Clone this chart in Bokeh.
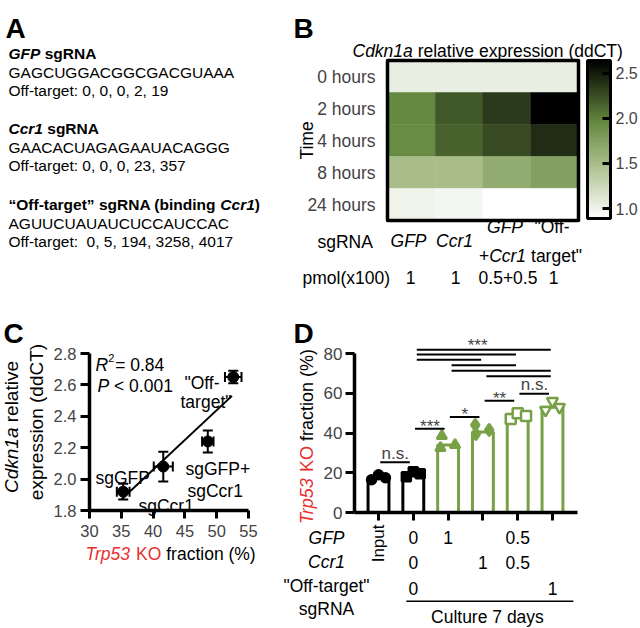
import math
from bokeh.plotting import figure
from bokeh.layouts import row, column
from bokeh.models import (Label, Range1d, FixedTicker, ColorBar, LinearColorMapper,
                          Whisker, TeeHead, ColumnDataSource, PrintfTickFormatter)
from bokeh.transform import transform
from bokeh.embed import file_html
from bokeh.resources import INLINE

FONT = "Liberation Sans"
GREEN = "#78a046"
RED = "#e8312f"

# ---------------- Panel A data ----------------
guide_genes = ["GFP", "Ccr1", "Ccr1"]
guide_seqs = ["GAGCUGGACGGCGACGUAAA", "GAACACUAGAGAAUACAGGG", "AGUUCUAUAUCUCCAUCCAC"]
guide_offtargets = ["Off-target: 0, 0, 0, 2, 19", "Off-target: 0, 0, 0, 23, 357",
                    "Off-target:  0, 5, 194, 3258, 4017"]

# ---------------- Panel B data ----------------
times = ["0 hours", "2 hours", "4 hours", "8 hours", "24 hours"]
sgrnas = ["GFP", "Ccr1", "GFP+Ccr1", "Off-target"]
expr_0h = [1.05, 1.05, 1.05, 1.05]
expr_2h = [1.95, 2.20, 2.35, 2.64]
expr_4h = [1.93, 2.15, 2.27, 2.42]
expr_8h = [1.50, 1.50, 1.65, 1.75]
expr_24h = [1.00, 0.97, 0.89, 0.89]
pmol = ["1", "1", "0.5+0.5", "1"]
cbar_ticks = [1.0, 1.5, 2.0, 2.5]
cbar_low, cbar_high = 0.89, 2.64

# ---------------- Panel C data ----------------
ko_frac = [35.3, 41.6, 48.6, 52.6]
ko_err = [1.0, 1.5, 0.9, 1.3]
cdkn = [1.92, 2.08, 2.24, 2.65]
cdkn_err = [0.05, 0.095, 0.07, 0.04]
fit_x = [35.0, 52.4]
fit_y = [1.87, 2.53]
c_xticks = [30, 35, 40, 45, 50, 55]
c_yticks = [1.8, 2.0, 2.2, 2.4, 2.6, 2.8]

# ---------------- Panel D data ----------------
groups = [1, 2, 3, 4, 5, 6]
bar_mean = [17.8, 19.5, 34.0, 40.5, 48.3, 53.0]
bar_color = ["black", "black", GREEN, GREEN, GREEN, GREEN]
pt_group = [1, 1, 1, 2, 2, 2, 3, 3, 3, 4, 4, 4, 5, 5, 5, 6, 6, 6]
pt_dx = [-0.2, 0.0, 0.2, -0.2, 0.0, 0.2, -0.18, -0.22, 0.2, -0.22, -0.2, 0.18,
         -0.2, 0.0, 0.24, -0.2, 0.0, 0.2]
pt_val = [16.5, 19.0, 17.5, 18.0, 20.5, 19.5, 38.5, 32.5, 34.0, 44.0, 39.5, 41.5,
          47.0, 50.0, 48.5, 51.5, 56.0, 53.0]
d_yticks = [0, 20, 40, 60, 80]
multi_from = [2, 2, 2, 3, 3, 4]
multi_to = [6, 5, 4, 5, 6, 6]
multi_y = [81.9, 79.5, 76.8, 74.1, 71.3, 68.6]
adj_from = [1, 2, 3, 4, 5]
adj_to = [2, 3, 4, 5, 6]
adj_y = [25.3, 42.1, 48.1, 56.2, 59.7]
adj_text = ["n.s.", "***", "*", "**", "n.s."]
gfp_row = {2: "0", 3: "1", 5: "0.5"}
ccr1_row = {2: "0", 4: "1", 5: "0.5"}
off_row = {2: "0", 6: "1"}

# ---------------- text width helpers (Arial metrics) ----------------
REG = {' ': 278, '"': 355, '%': 889, '(': 333, ')': 333, '+': 584, ',': 278, '-': 333, '.': 278,
       ':': 278, '<': 584, '=': 584, '*': 389}
for ch in "0123456789":
    REG[ch] = 556
REG.update(dict(zip("ABCDEFGHIJKLMNOPQRSTUVWXYZ",
                    [667, 667, 722, 722, 667, 611, 778, 722, 278, 500, 667, 556, 833, 722, 778, 667,
                     778, 722, 667, 611, 722, 667, 944, 667, 667, 611])))
REG.update(dict(zip("abcdefghijklmnopqrstuvwxyz",
                    [556, 556, 500, 556, 556, 278, 556, 556, 222, 222, 500, 222, 833, 556, 556, 556,
                     556, 333, 500, 278, 556, 500, 722, 500, 500, 500])))
BOLD = {' ': 278, '"': 474, '\u201c': 500, '\u201d': 500, '(': 333, ')': 333, '-': 333, '+': 584}
for ch in "0123456789":
    BOLD[ch] = 556
BOLD.update({'A': 722, 'C': 722, 'F': 611, 'G': 778, 'N': 722, 'O': 778, 'P': 667, 'R': 722,
             'a': 556, 'b': 611, 'c': 556, 'd': 611, 'e': 556, 'f': 333, 'g': 611, 'i': 278,
             'n': 611, 'o': 611, 'r': 389, 's': 556, 't': 333})


def tw(s, size, bold=False):
    tab = BOLD if bold else REG
    return sum(tab.get(ch, 556) for ch in s) / 1000.0 * size


def keep_spaces(text):
    # SVG collapses leading / repeated blanks; use no-break spaces there
    lead = len(text) - len(text.lstrip(" "))
    text = "\u00a0" * lead + text[lead:]
    return text.replace("  ", " \u00a0")


def put(fig, x, y, text, size, style="normal", color="black", align="left",
        baseline="alphabetic", angle=0.0, xdata=False):
    # x, y: pixel position inside the figure (origin top-left); frame == whole figure
    fig.add_layout(Label(x=x, y=fig.height - y,
                         x_units=("data" if xdata else "screen"), y_units="screen",
                         text=keep_spaces(text), text_font=FONT, text_font_size=f"{size}px",
                         text_font_style=style, text_color=color, text_align=align,
                         text_baseline=baseline, angle=angle))


def put_parts(fig, x, y, parts, size, baseline="alphabetic", vertical=False, center=False):
    total = sum(tw(t, size, "bold" in s) for t, s, c in parts)
    off = -total / 2 if center else 0.0
    for t, s, c in parts:
        if vertical:
            put(fig, x, y - off, t, size, s, c, "left", baseline, math.pi / 2)
        else:
            put(fig, x + off, y, t, size, s, c, "left", baseline)
        off += tw(t, size, "bold" in s)


def span(v0, p0, v1, p1, size, down=False):
    """Range whose values v0, v1 fall at pixels p0, p1 of a frame `size` px long."""
    k = (v1 - v0) / (p1 - p0)
    if down:  # pixels counted from the top
        return Range1d(start=v0 + (size - p0) * k, end=v0 + (0 - p0) * k)
    return Range1d(start=v0 - p0 * k, end=v0 + (size - p0) * k)


def base_fig(w, h, **kw):
    p = figure(width=w, height=h, toolbar_location=None, tools="", output_backend="svg",
               title=None, min_border=0, **kw)
    p.outline_line_color = None
    return p


def style_axis(ax, tout, font_size, standoff):
    ax.axis_line_width = 3.5
    ax.major_tick_line_width = 3
    ax.major_tick_out = tout
    ax.major_tick_in = 0
    ax.minor_tick_line_color = None
    ax.major_label_text_font = FONT
    ax.major_label_text_font_size = font_size
    ax.major_label_standoff = standoff


# ================= Panel A =================
pA = base_fig(280, 300, x_axis_type=None, y_axis_type=None,
              x_range=Range1d(0, 280), y_range=Range1d(300, 0))
put(pA, 5, 28, "A", 28, "bold")
AS = 15.5
heads = [
    [(guide_genes[0], "bold italic", "black"), (" sgRNA", "bold", "black")],
    [(guide_genes[1], "bold italic", "black"), (" sgRNA", "bold", "black")],
    [("\u201cOff-target\u201d sgRNA (binding ", "bold", "black"),
     (guide_genes[2], "bold italic", "black"), (")", "bold", "black")],
]
head_y = [53, 128, 204]
for k in range(3):
    put_parts(pA, 8, head_y[k], heads[k], AS)
    put(pA, 8, head_y[k] + 18.7, guide_seqs[k], AS)
    put(pA, 8, head_y[k] + 37, guide_offtargets[k], AS)

# ================= Panel B =================
pB = base_fig(360, 300, x_axis_type=None,
              x_range=span(0, 107, 4, 298, 360), y_range=span(0, 60, 5, 220, 300, down=True))
pB.grid.visible = False


def lerp_palette(anchors, low, high, n=256):
    out = []
    for k in range(n):
        v = low + (high - low) * k / (n - 1)
        c = anchors[-1][1]
        for (v0, c0), (v1, c1) in zip(anchors[:-1], anchors[1:]):
            if v0 <= v <= v1:
                t = (v - v0) / (v1 - v0)
                c = [round(a + (b - a) * t) for a, b in zip(c0, c1)]
                break
        out.append('#%02x%02x%02x' % tuple(c))
    return out


pal = lerp_palette([(cbar_low, (255, 255, 255)), (1.5, (168, 189, 138)),
                    (1.95, (102, 138, 64)), (cbar_high, (0, 0, 0))], cbar_low, cbar_high)
mapper = LinearColorMapper(palette=pal, low=cbar_low, high=cbar_high)
rows_vals = [expr_0h, expr_2h, expr_4h, expr_8h, expr_24h]
hx, hy, hv = [], [], []
for i, vals in enumerate(rows_vals):
    for j, v in enumerate(vals):
        hx.append(j + 0.5); hy.append(i + 0.5); hv.append(v)
pB.rect(x="x", y="y", width=1, height=1, source=ColumnDataSource(dict(x=hx, y=hy, v=hv)),
        fill_color=transform("v", mapper), line_color=transform("v", mapper), line_width=0.5)
pB.quad(left=[0], right=[len(sgrnas)], top=[0], bottom=[len(times)], fill_color=None,
        line_color="black", line_width=3.5, line_join="round")
ya = pB.yaxis[0]
ya.fixed_location = 0
ya.ticker = FixedTicker(ticks=[i + 0.5 for i in range(len(times))])
ya.major_label_overrides = {i + 0.5: t for i, t in enumerate(times)}
ya.axis_line_color = None
ya.major_tick_line_color = None
ya.minor_tick_line_color = None
ya.major_label_text_font = FONT
ya.major_label_text_font_size = "17.5px"
ya.major_label_standoff = 6

cb = ColorBar(color_mapper=mapper, width=23, height=158, padding=0, margin=0,
              location=(307, 300 - 218),
              ticker=FixedTicker(ticks=cbar_ticks), formatter=PrintfTickFormatter(format="%.1f"),
              major_label_text_font=FONT, major_label_text_font_size="16px",
              major_tick_in=8, major_tick_out=0, major_tick_line_color="black",
              major_tick_line_width=3, minor_tick_line_color=None,
              bar_line_color="black", bar_line_width=3, border_line_color=None,
              background_fill_color=None, label_standoff=5)
pB.add_layout(cb)

put(pB, 13, 28, "B", 28, "bold")
put_parts(pB, 72, 50, [("Cdkn1a", "italic", "black"),
                       (" relative expression (ddCT)", "normal", "black")], 17.5)
put(pB, 26, 140, "Time", 17.5, align="center", baseline="middle", angle=math.pi / 2)
put(pB, 37, 241, "sgRNA", 17.5, baseline="middle")
put(pB, 128, 240, "GFP", 17.5, "italic", align="center", baseline="middle")
put(pB, 174, 240, "Ccr1", 17.5, "italic", align="center", baseline="middle")
put(pB, 224.5, 226, "GFP", 17.5, "italic", align="center", baseline="middle")
put_parts(pB, 222, 255, [("+", "normal", "black"), ("Ccr1", "italic", "black")], 17.5,
          baseline="middle", center=True)
put(pB, 271.5, 226, "\"Off-", 17.5, align="center", baseline="middle")
put(pB, 276, 255, "target\"", 17.5, align="center", baseline="middle")
put(pB, 22, 277, "pmol(x100)", 17.5, baseline="middle")
for xc, lab in zip([130, 175, 227.5, 273], pmol):
    put(pB, xc, 277, lab, 17.5, align="center", baseline="middle")

# ================= Panel C =================
pC = base_fig(280, 328, x_range=span(30, 89, 55, 248, 280),
              y_range=span(1.8, 210, 2.8, 53, 328, down=True))
pC.grid.visible = False
xc_ax, yc_ax = pC.xaxis[0], pC.yaxis[0]
style_axis(xc_ax, 8, "16.5px", 6)
style_axis(yc_ax, 9, "16.5px", 4)
xc_ax.ticker = FixedTicker(ticks=c_xticks)
xc_ax.formatter = PrintfTickFormatter(format="%d")
xc_ax.fixed_location = c_yticks[0]
xc_ax.bounds = (c_xticks[0], c_xticks[-1])
yc_ax.ticker = FixedTicker(ticks=c_yticks)
yc_ax.formatter = PrintfTickFormatter(format="%.1f")
yc_ax.fixed_location = c_xticks[0]
yc_ax.bounds = (c_yticks[0], c_yticks[-1])

srcC = ColumnDataSource(dict(x=ko_frac, y=cdkn,
                             xl=[a - b for a, b in zip(ko_frac, ko_err)],
                             xu=[a + b for a, b in zip(ko_frac, ko_err)],
                             yl=[a - b for a, b in zip(cdkn, cdkn_err)],
                             yu=[a + b for a, b in zip(cdkn, cdkn_err)]))
pC.line(fit_x, fit_y, line_color="black", line_width=2)
for base, lo, up, dim in [("x", "yl", "yu", "height"), ("y", "xl", "xu", "width")]:
    pC.add_layout(Whisker(source=srcC, base=base, lower=lo, upper=up, dimension=dim,
                          line_color="black", line_width=2,
                          upper_head=TeeHead(size=10, line_width=2, line_color="black"),
                          lower_head=TeeHead(size=10, line_width=2, line_color="black")))
pC.scatter("x", "y", source=srcC, size=11, color="black")

put(pC, 3, 33, "C", 28, "bold")
put(pC, 95, 64, "R", 17.5, "italic")
put(pC, 95 + tw("R", 17.5), 57, "2", 11)
put(pC, 95 + tw("R", 17.5) + 7, 64, "= 0.84", 17.5)
put_parts(pC, 97, 85, [("P", "italic", "black"), (" < 0.001", "normal", "black")], 17.5)
put(pC, 184, 82, "\"Off-", 17.5)
put(pC, 180, 101.7, "target\"", 17.5)
put(pC, 95, 177, "sgGFP", 17.5)
put(pC, 138, 205, "sgCcr1", 17.5)
put(pC, 185, 168, "sgGFP+", 17.5)
put(pC, 187, 190.7, "sgCcr1", 17.5)
put_parts(pC, 10.5, 126.5, [("Cdkn1a", "italic", "black"), (" relative", "normal", "black")],
          19, baseline="middle", vertical=True, center=True)
put(pC, 35.5, 121.5, "expression (ddCT)", 19, align="center", baseline="middle",
    angle=math.pi / 2)
put_parts(pC, 85, 253, [("Trp53", "italic", RED), (" KO", "normal", RED),
                        (" fraction (%)", "normal", "black")], 17.5, baseline="middle")

# ================= Panel D =================
pD = base_fig(360, 328, x_range=span(1, 98, 2, 132.8, 360),
              y_range=span(0, 212, 80, 53, 328, down=True))
pD.grid.visible = False
xa, yb = pD.xaxis[0], pD.yaxis[0]
style_axis(xa, 8, "16px", 4)
style_axis(yb, 9, "17px", 3)
xa.ticker = FixedTicker(ticks=groups)
xa.major_label_text_color = None
xa.fixed_location = d_yticks[0]
xa.bounds = (0.31, 6.72)
yb.ticker = FixedTicker(ticks=d_yticks)
yb.fixed_location = 0.31
yb.bounds = (d_yticks[0], d_yticks[-1])

pD.vbar(x=groups, top=bar_mean, width=0.6, fill_color="white", line_color=bar_color,
        line_width=3)
markers = {1: ("circle", "black", "black", 9), 2: ("square", "black", "black", 9),
           3: ("triangle", GREEN, GREEN, 10), 4: ("diamond", GREEN, GREEN, 12),
           5: ("square", "white", GREEN, 10), 6: ("inverted_triangle", "white", GREEN, 11)}
for g in groups:
    mk, fc, lc, sz = markers[g]
    xs = [gg + dx for gg, dx in zip(pt_group, pt_dx) if gg == g]
    ys = [v for gg, v in zip(pt_group, pt_val) if gg == g]
    pD.scatter(xs, ys, marker=mk, size=sz, fill_color=fc, line_color=lc, line_width=2.5)

pD.segment(x0=[a + 0.1 for a in multi_from], x1=[b - 0.05 for b in multi_to],
           y0=multi_y, y1=multi_y, line_color="black", line_width=2)
pD.segment(x0=[a + 0.05 for a in adj_from], x1=[b - 0.1 for b in adj_to],
           y0=adj_y, y1=adj_y, line_color="black", line_width=2)
pD.add_layout(Label(x=3.85, y=multi_y[0], y_offset=4, text="***", text_font=FONT,
                    text_font_size="17px", text_align="center", text_baseline="middle"))
for a, b, yv, t in zip(adj_from, adj_to, adj_y, adj_text):
    pD.add_layout(Label(x=(a + b) / 2 - 0.02, y=yv, y_offset=(9 if t == "n.s." else 2), text=t,
                        text_font=FONT, text_font_size="17px", text_align="center",
                        text_baseline="middle"))

put(pD, 13, 33, "D", 28, "bold")
put_parts(pD, 26, 136, [("Trp53", "italic", RED), (" KO", "normal", RED),
                        (" fraction (%)", "normal", "black")], 18,
          baseline="middle", vertical=True, center=True)
put(pD, groups[0], 224, "Input", 17, align="right", baseline="middle",
    angle=math.pi / 2, xdata=True)
row_labels = [("GFP", "italic"), ("Ccr1", "italic"), ("\"Off-target\"", "normal"),
              ("sgRNA", "normal")]
for (t, s), yy in zip(row_labels, [237, 261.5, 285, 308]):
    put(pD, 46, yy, t, 17.5, s, align="center", baseline="middle")
for rowd, yy in zip([gfp_row, ccr1_row, off_row], [237, 262, 288]):
    for g, t in rowd.items():
        put(pD, g, yy, t, 17.5, align="center", baseline="middle", xdata=True)
underline_x = [1.8, 6.6]
underline_y = -44.6
pD.line(underline_x, [underline_y, underline_y], line_color="black", line_width=1.5)
put(pD, 4.13, 316, "Culture 7 days", 17.5, align="center", baseline="middle", xdata=True)

layout = column(row(pA, pB), row(pC, pD))
open("out.html", "w").write(file_html(layout, INLINE))
